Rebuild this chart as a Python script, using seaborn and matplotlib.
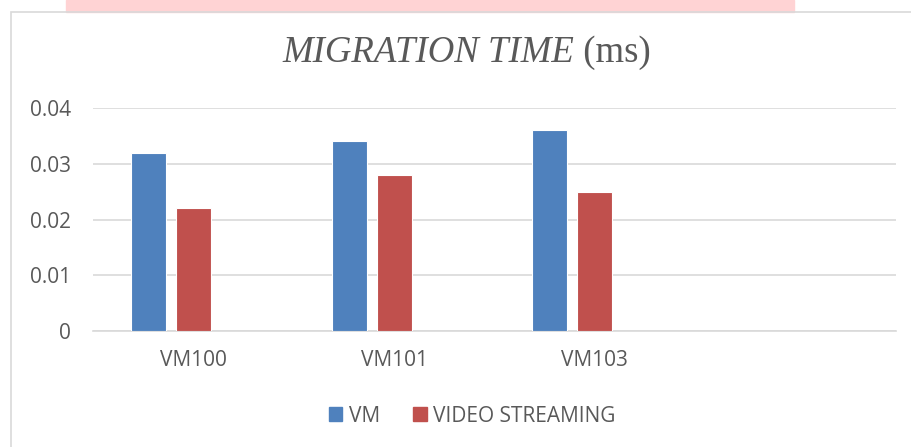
import matplotlib
matplotlib.use("Agg")
import matplotlib.pyplot as plt
from matplotlib.patches import Rectangle, Patch
import seaborn as sns
import pandas as pd

# data
categories = ["VM100", "VM101", "VM103"]
empty_slot = [""]            # excel keeps a 4th empty category
series = ["VM", "VIDEO STREAMING"]
vm_values = [0.032, 0.034, 0.036]
video_values = [0.022, 0.028, 0.025]
yticks = [0, 0.01, 0.02, 0.03, 0.04]
ytick_labels = ["0", "0.01", "0.02", "0.03", "0.04"]
colors = ["#4F81BD", "#C0504D", "#FFFFFF"]

df = pd.DataFrame({
    "cat": categories * 2,
    "series": [series[0]] * 3 + [series[1]] * 3,
    "value": vm_values + video_values,
})

sns.set_theme(style="white")
plt.rcParams["font.family"] = ["Open Sans", "DejaVu Sans"]

fig = plt.figure(figsize=(9.12, 4.47), dpi=100)
W, H = 912, 447

# pink strip at the top and the chart frame
fig.patches.append(Rectangle((66 / W, 1 - 12 / H), (794 - 66) / W, 12 / H,
                             transform=fig.transFigure, color="#FFD3D4", zorder=0))
fig.patches.append(Rectangle((11 / W, -0.1), 1.1, 1.1 - 12 / H, transform=fig.transFigure,
                             fill=False, edgecolor="#D9D9D9", linewidth=1.2, zorder=1))

ax = fig.add_axes([93 / W, 1 - 331 / H, (896 - 93) / W, (331 - 108) / H])

# third hue level is an empty series, like in the original workbook
sns.barplot(data=df, x="cat", y="value", hue="series",
            order=categories + empty_slot, hue_order=series + [" "],
            palette=colors, width=0.673, gap=0.222, saturation=1,
            linewidth=0.8, legend=False, ax=ax, zorder=3)

ax.set_xlim(-0.5, len(categories + empty_slot) - 0.5)
ax.set_ylim(0, 0.04)
ax.set_yticks(yticks)
ax.set_yticklabels(ytick_labels)
ax.grid(axis="y", color="#D9D9D9", linewidth=1.2, zorder=0)
ax.set_axisbelow(True)
for s in ["top", "right", "left"]:
    ax.spines[s].set_visible(False)
ax.spines["bottom"].set_color("#D9D9D9")
ax.spines["bottom"].set_linewidth(1.2)
ax.tick_params(axis="both", length=0, labelsize=15, colors="#595959")
ax.tick_params(axis="y", pad=16)
ax.tick_params(axis="x", pad=14)
ax.set_xlabel("")
ax.set_ylabel("")

# title: italic part + regular part
t1 = fig.text(282 / W, 1 - 62 / H, "MIGRATION TIME", family="Liberation Serif",
              style="italic", fontsize=26.5, color="#595959", ha="left", va="baseline")
ax.annotate(" (ms)", xy=(1, 0), xycoords=t1, family="Liberation Serif",
            fontsize=26.5, color="#595959", ha="left", va="bottom",
            annotation_clip=False)

handles = [Patch(color=colors[0], label=series[0]), Patch(color=colors[1], label=series[1])]
fig.legend(handles=handles, loc="center", bbox_to_anchor=(472 / W, 1 - 416 / H),
           ncol=2, frameon=False, fontsize=15, labelcolor="#595959",
           handlelength=0.65, handleheight=0.65, handletextpad=0.3, columnspacing=1.6)

fig.savefig("out.png", dpi=100)
